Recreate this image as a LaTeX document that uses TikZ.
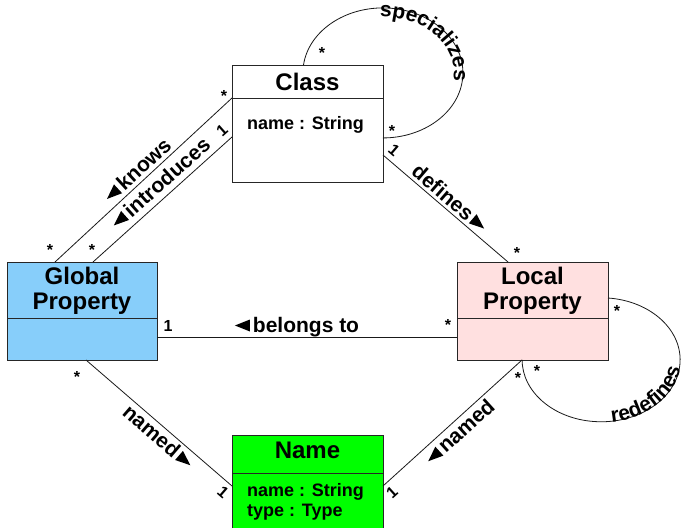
\documentclass[tikz,border=0pt]{standalone}
\usepackage{fontspec}
\setmainfont{Liberation Sans}
\usetikzlibrary{calc}
\definecolor{gpblue}{RGB}{135,206,250}
\definecolor{lppink}{RGB}{255,224,224}
\definecolor{nmgreen}{RGB}{0,255,0}
\newcommand\ltrimark{\tikz[x=1pt,y=1pt,baseline=-6.5pt]\fill (0,0) -- (15,6) -- (15,-6) -- cycle;}
\newcommand\rtrimark{\tikz[x=1pt,y=1pt,baseline=-6.5pt]\fill (0,6) -- (15,0) -- (0,-6) -- cycle;}
\tikzset{
  umlbox/.style={draw=black!85, line width=1pt, inner sep=0pt, outer sep=0pt},
  titletext/.style={font=\bfseries\fontsize{24}{25}\selectfont, align=center, inner sep=0pt},
  attrtext/.style={font=\bfseries\fontsize{18}{20}\selectfont, anchor=west, inner sep=0pt, align=left},
  lbl/.style={font=\bfseries\fontsize{21}{22}\selectfont, inner sep=0pt},
  arcch/.style={font=\bfseries\fontsize{21}{22}\selectfont, inner sep=0pt},
  mult/.style={font=\bfseries\fontsize{16}{17}\selectfont, inner sep=0pt},
  conn/.style={line width=0.8pt, draw=black!90}
}
% #1 cx, #2 cy, #3 rx, #4 ry, #5 start angle, #6 direction, #7 font size, #8 letter/width list
\newcommand\arcword[8]{%
  \xdef\arcT{#5}%
  \foreach \ch/\w in {#8} {%
    \pgfmathsetmacro\arcSp{sqrt(((#3)*sin(\arcT))^2+((#4)*cos(\arcT))^2)}%
    \pgfmathsetmacro\arcTq{\arcT + (#6)*deg(\w*(#7)/2/\arcSp)}%
    \pgfmathsetmacro\arcSp{sqrt(((#3)*sin(\arcTq))^2+((#4)*cos(\arcTq))^2)}%
    \pgfmathsetmacro\arcTm{\arcT + (#6)*deg(\w*(#7)/2/\arcSp)}%
    \pgfmathsetmacro\arcTe{\arcT + (#6)*deg(\w*(#7)/\arcSp)}%
    \pgfmathsetmacro\arcX{(#1)+(#3)*cos(\arcTm)}%
    \pgfmathsetmacro\arcY{(#2)+(#4)*sin(\arcTm)}%
    \pgfmathsetmacro\arcR{atan2(-(#6)*(#4)*cos(\arcTm), -(#6)*(#3)*sin(\arcTm))}%
    \node[arcch, rotate=\arcR, anchor=base] at (\arcX,\arcY) {\ch};%
    \xdef\arcT{\arcTe}%
  }%
}
\begin{document}
\begin{tikzpicture}[x=1pt, y=-1pt]
\useasboundingbox[fill=white] (0,0) rectangle (681,528);

% boxes
\node[umlbox, fill=white, minimum width=151, minimum height=117] (Class) at (307.5,123.5) {};
\node[umlbox, fill=gpblue, minimum width=150, minimum height=98] (Global) at (82,311) {};
\node[umlbox, fill=lppink, minimum width=151, minimum height=98] (Local) at (532.5,311) {};
\node[umlbox, fill=nmgreen, minimum width=151, minimum height=100] (Name) at (307.5,485) {};

\draw[umlbox] ($(Class.north west)+(0,33)$) -- ($(Class.north east)+(0,33)$);
\draw[umlbox] ($(Global.north west)+(0,56)$) -- ($(Global.north east)+(0,56)$);
\draw[umlbox] ($(Local.north west)+(0,56)$) -- ($(Local.north east)+(0,56)$);
\draw[umlbox] ($(Name.north west)+(0,38)$) -- ($(Name.north east)+(0,38)$);

% texts in boxes
\node[titletext] (ClassT) at (307.5,82) {Class};
\node[attrtext] (ClassA) at (247,125) {name : String};
\node[titletext] (GlobalT) at (82,291) {Global\\Property};
\node[titletext] (LocalT) at (532.5,291) {Local\\Property};
\node[titletext] (NameT) at (307.5,450) {Name};
\node[attrtext] (NameA) at (247,502) {name : String\\type : Type};

% connectors
\draw[conn] ($(Class.north west)+(0,33)$) -- ($(Global.north west)+(48,0)$);
\draw[conn] ($(Class.north west)+(0,72)$) -- ($(Global.north west)+(86,0)$);
\draw[conn] ($(Class.north east)+(0,90)$) -- ($(Local.north west)+(51,0)$);
\draw[conn] ($(Global.north east)+(0,75)$) -- ($(Local.north west)+(0,75)$);
\draw[conn] ($(Global.south west)+(79,0)$) -- ($(Name.north west)+(0,51)$);
\draw[conn] ($(Local.south west)+(65,0)$) -- ($(Name.north east)+(0,51)$);

% self loops
\draw[conn] ($(Class.north)+(-4,0)$) arc[start angle=187, end angle=450, x radius=80, y radius=65];
\draw[conn] ($(Local.north east)+(0,36)$) arc[start angle=275, end angle=540, x radius=79, y radius=62];

\arcword{382.9}{72.9}{71}{56}{267.6}{1}{21}{s/.556,p/.611,e/.556,c/.556,i/.278,a/.556,l/.278,i/.278,z/.5,e/.556,s/.556}
\arcword{601.1}{359.8}{80}{63}{442.2}{-1}{21}{r/.389,e/.556,d/.611,e/.556,f/.333,i/.278,n/.611,e/.556,s/.556}

% association labels
\node[lbl, rotate=42.6] (knowsL) at (137,170) {\ltrimark\hspace{3pt}knows};
\node[lbl, rotate=41.7] (introL) at (160,183) {\ltrimark\hspace{3pt}introduces};
\node[lbl, rotate=-40.6] (defL) at (450,198) {defines\hspace{3pt}\rtrimark};
\node[lbl, anchor=base] (belL) at (297,332) {\ltrimark\hspace{3pt}belongs to};
\node[lbl, rotate=-40.8] (namedLL) at (158.6,436.5) {named\hspace{3pt}\rtrimark};
\node[lbl, rotate=42.2] (namedRL) at (459.3,431.7) {\ltrimark\hspace{3pt}named};

% multiplicities
\node[mult] (m1) at (224,96) {*};
\node[mult, rotate=41.7] (m2) at (222,130) {1};
\node[mult] (m3) at (50,250) {*};
\node[mult] (m4) at (92,250) {*};
\node[mult] (m5) at (322,53) {*};
\node[mult] (m6) at (392,131) {*};
\node[mult, rotate=-40.6] (m7) at (394,150) {1};
\node[mult] (m8) at (517,253) {*};
\node[mult] (m9) at (448,325) {*};
\node[mult] (m10) at (168,326) {1};
\node[mult] (m11) at (617,311) {*};
\node[mult] (m12) at (537,371) {*};
\node[mult] (m13) at (518,378) {*};
\node[mult] (m14) at (77,377) {*};
\node[mult, rotate=-40.8] (m15) at (223,492) {1};
\node[mult, rotate=42.2] (m16) at (392,492) {1};
\end{tikzpicture}
\end{document}
